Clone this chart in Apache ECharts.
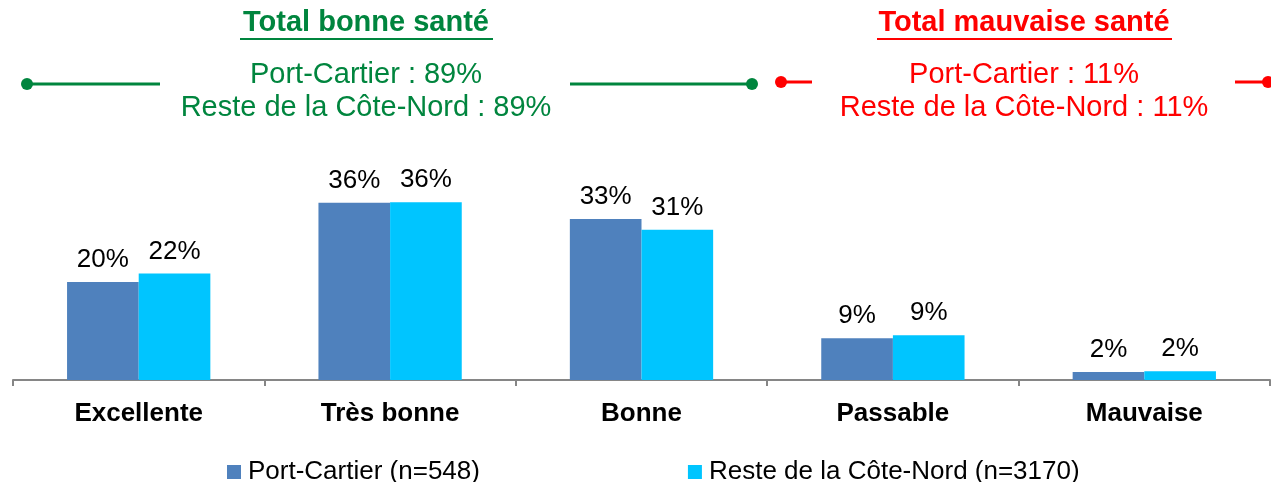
<!DOCTYPE html>
<html>
<head>
<meta charset="utf-8">
<script src="https://cdn.jsdelivr.net/npm/echarts@6/dist/echarts.min.js"></script>
<style>
  html, body { margin: 0; padding: 0; background: #fff; }
  #chart { width: 1271px; height: 482px; }
</style>
</head>
<body>
<div id="chart"></div>
<script>
// données
const categories = ['Excellente', 'Très bonne', 'Bonne', 'Passable', 'Mauvaise'];
const portCartier = [19.9, 36.0, 32.7, 8.5, 1.6];
const resteCoteNord = [21.6, 36.1, 30.5, 9.1, 1.8];
const seriesNames = ['Port-Cartier (n=548)', 'Reste de la Côte-Nord (n=3170)'];

const goodTitle = 'Total bonne santé';
const goodLines = ['Port-Cartier : 89%', 'Reste de la Côte-Nord : 89%'];
const badTitle = 'Total mauvaise santé';
const badLines = ['Port-Cartier : 11%', 'Reste de la Côte-Nord : 11%'];

const GREEN = '#00853E';
const RED = '#FF0000';
const FONT = '"Liberation Sans", Arial, sans-serif';

const chart = echarts.init(document.getElementById('chart'));

// bloc d'en-tête (titre souligné + deux lignes + traits avec points)
function headerBlock(cx, color, title, lines, leftLine, rightLine, dots) {
  const els = [
    {
      type: 'text', x: cx, y: 23,
      style: { text: title, fill: color, font: 'bold 29px ' + FONT, align: 'center', verticalAlign: 'middle' }
    },
    {
      type: 'text', x: cx, y: 75,
      style: { text: lines[0], fill: color, font: '29px ' + FONT, align: 'center', verticalAlign: 'middle' }
    },
    {
      type: 'text', x: cx, y: 108,
      style: { text: lines[1], fill: color, font: '29px ' + FONT, align: 'center', verticalAlign: 'middle' }
    },
    {
      type: 'line', shape: { x1: leftLine[0], y1: leftLine[2], x2: leftLine[1], y2: leftLine[2] },
      style: { stroke: color, lineWidth: 3 }
    },
    {
      type: 'line', shape: { x1: rightLine[0], y1: rightLine[2], x2: rightLine[1], y2: rightLine[2] },
      style: { stroke: color, lineWidth: 3 }
    }
  ];
  dots.forEach(d => {
    els.push({ type: 'circle', shape: { cx: d[0], cy: d[1], r: 6 }, style: { fill: color } });
  });
  return els;
}

const graphics = []
  .concat(headerBlock(366, GREEN, goodTitle, goodLines, [27, 160, 84], [570, 752, 84], [[27, 84], [752, 84]]))
  .concat(headerBlock(1024, RED, badTitle, badLines, [781, 812, 82], [1235, 1268, 82], [[781, 82], [1268, 82]]));

// soulignements
graphics.push({ type: 'line', shape: { x1: 240, y1: 39, x2: 493, y2: 39 }, style: { stroke: GREEN, lineWidth: 2 } });
graphics.push({ type: 'line', shape: { x1: 877, y1: 39, x2: 1172, y2: 39 }, style: { stroke: RED, lineWidth: 2 } });

const labelStyle = {
  show: true,
  position: 'top',
  distance: 9,
  color: '#000',
  fontSize: 26,
  fontFamily: FONT,
  formatter: p => Math.round(p.value) + '%'
};

const option = {
  backgroundColor: '#fff',
  animation: false,
  graphic: graphics,
  legend: {
    data: seriesNames,
    left: 222,
    top: 454,
    itemWidth: 14,
    itemHeight: 14,
    itemGap: 208,
    icon: 'rect',
    textStyle: { color: '#000', fontSize: 26, fontFamily: FONT, padding: [0, 0, 0, 2] }
  },
  grid: { left: 13, right: 1, top: 183, bottom: 102 },
  xAxis: {
    type: 'category',
    data: categories,
    axisLine: { lineStyle: { color: '#868686', width: 2 } },
    axisTick: { show: true, length: 6, lineStyle: { color: '#868686', width: 2 } },
    axisLabel: { color: '#000', fontSize: 26, fontWeight: 'bold', fontFamily: FONT, margin: 21 }
  },
  yAxis: {
    type: 'value',
    min: 0,
    max: 40,
    show: false,
    splitLine: { show: false }
  },
  series: [
    {
      name: seriesNames[0],
      type: 'bar',
      data: portCartier,
      barGap: '0%',
      barCategoryGap: '43%',
      itemStyle: { color: '#4F81BD' },
      label: labelStyle
    },
    {
      name: seriesNames[1],
      type: 'bar',
      data: resteCoteNord,
      itemStyle: { color: '#00C5FF' },
      label: labelStyle
    }
  ]
};

chart.setOption(option);
window.addEventListener('resize', () => chart.resize());
</script>
</body>
</html>
